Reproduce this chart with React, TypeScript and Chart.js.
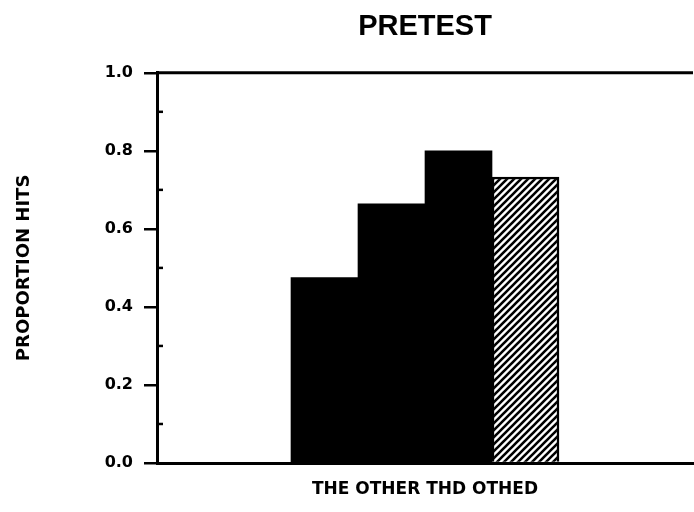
import React, { useEffect, useRef } from "react";
import { Chart, registerables } from "chart.js";

Chart.register(...registerables);

const CATEGORIES = ["", "", "c1", "c2", "c3", "c4", "", ""];
const VALUES = [null, null, 0.475, 0.664, 0.8, 0.733, null, null];
const HATCHED = [false, false, false, false, false, true, false, false];
const Y_TICKS = [0, 0.2, 0.4, 0.6, 0.8, 1.0];
const MINOR_TICKS = [0.1, 0.3, 0.5, 0.7, 0.9];
const TITLE = "PRETEST";
const X_TITLE = "THE OTHER THD OTHED";
const Y_TITLE = "PROPORTION HITS";

function makeHatch(): CanvasPattern | string {
  const s = 7;
  const c = document.createElement("canvas");
  c.width = s;
  c.height = s;
  const g = c.getContext("2d");
  if (!g) return "#000";
  g.fillStyle = "#fff";
  g.fillRect(0, 0, s, s);
  g.strokeStyle = "#000";
  g.lineWidth = 2.6;
  g.beginPath();
  g.moveTo(0, s);
  g.lineTo(s, 0);
  g.moveTo(-2, 2);
  g.lineTo(2, -2);
  g.moveTo(s - 2, s + 2);
  g.lineTo(s + 2, s - 2);
  g.stroke();
  return g.createPattern(c, "repeat") || "#000";
}

const framePlugin = {
  id: "frame",
  afterDraw(chart: any) {
    const { ctx, chartArea, scales } = chart;
    const y = scales.y;
    ctx.save();
    ctx.strokeStyle = "#000";
    ctx.lineWidth = 3;
    const top = y.getPixelForValue(1);
    ctx.beginPath();
    ctx.moveTo(chartArea.left, top);
    ctx.lineTo(chartArea.right, top);
    ctx.stroke();
    ctx.lineWidth = 2.5;
    for (const v of MINOR_TICKS) {
      const p = y.getPixelForValue(v);
      ctx.beginPath();
      ctx.moveTo(chartArea.left, p);
      ctx.lineTo(chartArea.left + 6, p);
      ctx.stroke();
    }
    ctx.restore();
  },
};

export default function App() {
  const ref = useRef<HTMLCanvasElement | null>(null);
  useEffect(() => {
    if (!ref.current) return;
    const hatch = makeHatch();
    const chart = new Chart(ref.current, {
      type: "bar",
      data: {
        labels: CATEGORIES,
        datasets: [
          {
            data: VALUES as any,
            backgroundColor: HATCHED.map((h) => (h ? hatch : "#000")) as any,
            borderColor: "#000",
            borderWidth: HATCHED.map((h) => (h ? 2.5 : 0)),
            barPercentage: 1,
            categoryPercentage: 1,
          },
        ],
      },
      options: {
        animation: false,
        responsive: false,
        layout: { padding: { left: 0, right: 1, top: 0, bottom: 0 } },
        plugins: {
          legend: { display: false },
          tooltip: { enabled: false },
          title: {
            display: true,
            text: TITLE,
            fullSize: false,
            color: "#000",
            font: { family: "'Liberation Sans', Arial, sans-serif", size: 29, weight: "bold" },
            padding: { top: 10, bottom: 28 },
          },
        },
        scales: {
          x: {
            grid: { display: false },
            ticks: { display: false },
            border: { display: true, color: "#000", width: 3 },
            title: {
              display: true,
              text: X_TITLE,
              color: "#000",
              font: { family: "'DejaVu Sans', sans-serif", size: 17, weight: "bold" },
              padding: { top: 0, bottom: 12 },
            },
            afterFit: (s: any) => {
              s.height = 49;
            },
          },
          y: {
            min: 0,
            max: 1,
            afterBuildTicks: (s: any) => {
              s.ticks = Y_TICKS.map((v) => ({ value: v }));
            },
            ticks: {
              color: "#000",
              padding: 11,
              font: { family: "'DejaVu Sans', sans-serif", size: 16, weight: "bold" },
              callback: (v: any) => Number(v).toFixed(1),
            },
            grid: {
              display: true,
              drawOnChartArea: false,
              drawTicks: true,
              tickLength: 13,
              color: "#000",
              lineWidth: 2.5,
            },
            border: { display: true, color: "#000", width: 3 },
            title: {
              display: true,
              text: Y_TITLE,
              color: "#000",
              font: { family: "'DejaVu Sans', sans-serif", size: 18, weight: "bold" },
              padding: { top: 14, bottom: 0 },
            },
            afterFit: (s: any) => {
              s.width = 157;
            },
          },
        },
      },
      plugins: [framePlugin],
    });
    return () => chart.destroy();
  }, []);
  return (
    <div style={{ position: "fixed", left: 0, top: 0, width: 694, height: 512, background: "#fff" }}>
      <canvas ref={ref} width={694} height={512} />
    </div>
  );
}
